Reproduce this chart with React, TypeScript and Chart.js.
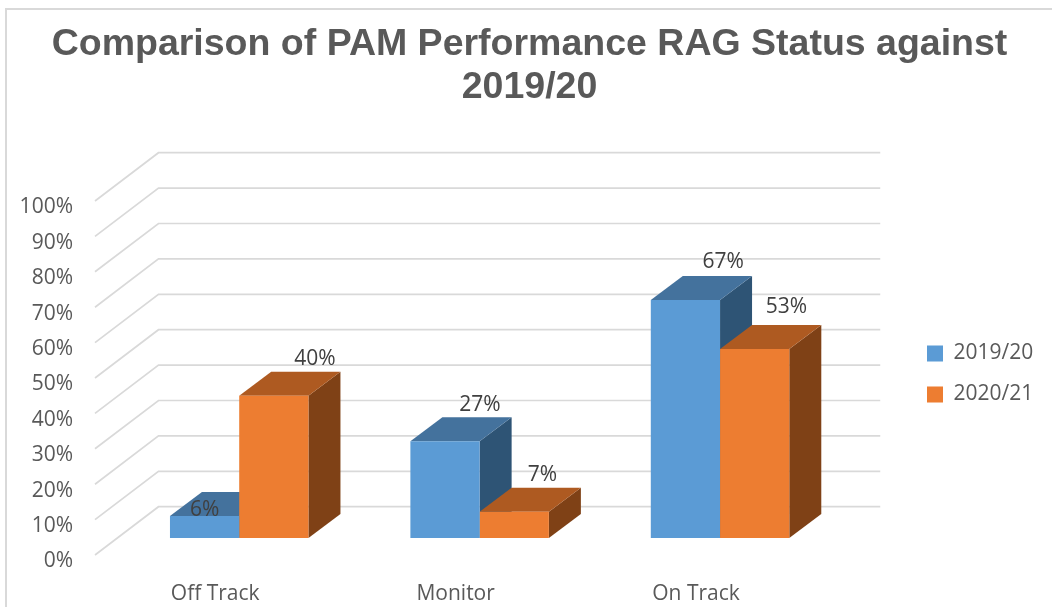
import React, { useEffect, useRef } from "react";
import { Chart, registerables } from "chart.js";

Chart.register(...registerables);

const titleLines = ["Comparison of PAM Performance RAG Status against", "2019/20"];
const categories = ["Off Track", "Monitor", "On Track"];
const series2019 = [6.2, 27.3, 67.2];
const series2020 = [40.2, 7.4, 53.4];
const seriesNames = ["2019/20", "2020/21"];
const tickStep = 10;

const BLUE = ["#5B9BD5", "#44729D", "#2E5475"];
const ORANGE = ["#ED7D31", "#AE5A21", "#7F4116"];
const faceColors = [BLUE, ORANGE];
const GRID = "#D9D9D9";
const TEXT = "#595959";
const LABEL = "#404040";
const FONT = "'Open Sans', sans-serif";

// data-label nudges relative to each bar's top centre [dx, dy], per series/category
const labelNudges = [
  [[0, -6], [35, -36], [37.7, -38]],
  [[41, -37], [28.3, -37], [31.7, -42]],
];

const depthPlugin = {
  id: "depth",
  afterLayout(chart: any) {
    const lg = chart.legend;
    const w = lg.right - lg.left;
    lg.left = 907;
    lg.right = 907 + w;
    const h = lg.bottom - lg.top;
    lg.top = 374 - h / 2;
    lg.bottom = 374 + h / 2;
    const t = chart.titleBlock;
    t.left = 7;
    t.right = 1052;
  },
  beforeDraw(chart: any) {
    const c = chart.ctx;
    c.save();
    c.strokeStyle = GRID;
    c.lineWidth = 2;
    c.beginPath();
    c.moveTo(6, 607);
    c.lineTo(6, 9);
    c.lineTo(1052, 9);
    c.stroke();
    c.restore();
  },
  beforeDatasetsDraw(chart: any) {
    const c = chart.ctx;
    const y = chart.scales.y;
    const a = chart.chartArea;
    c.save();
    c.strokeStyle = GRID;
    c.lineWidth = 1.7;
    y.ticks.forEach((t: any) => {
      const p = y.getPixelForValue(t.value);
      c.beginPath();
      c.moveTo(a.left - 24, p + 17);
      c.lineTo(a.left + 39.5, p - 31.3);
      c.lineTo(a.right + 40, p - 31.3);
      c.stroke();
    });
    const dx = 32;
    const dy = 24;
    chart.data.datasets.forEach((_: any, ds: number) => {
      chart.getDatasetMeta(ds).data.forEach((el: any) => {
        const { x, y: top, base, width } = el.getProps(["x", "y", "base", "width"]);
        const l = x - width / 2;
        const r = x + width / 2;
        c.fillStyle = faceColors[ds][2];
        c.beginPath();
        c.moveTo(r, top);
        c.lineTo(r + dx, top - dy);
        c.lineTo(r + dx, base - dy);
        c.lineTo(r, base);
        c.closePath();
        c.fill();
        c.fillStyle = faceColors[ds][1];
        c.beginPath();
        c.moveTo(l, top);
        c.lineTo(l + dx, top - dy);
        c.lineTo(r + dx, top - dy);
        c.lineTo(r, top);
        c.closePath();
        c.fill();
      });
    });
    c.restore();
  },
  afterDatasetsDraw(chart: any) {
    const c = chart.ctx;
    c.save();
    c.font = `21px ${FONT}`;
    c.fillStyle = LABEL;
    c.textAlign = "center";
    c.textBaseline = "middle";
    chart.data.datasets.forEach((d: any, ds: number) => {
      chart.getDatasetMeta(ds).data.forEach((el: any, i: number) => {
        const { x, y } = el.getProps(["x", "y"]);
        const [nx, ny] = labelNudges[ds][i];
        c.fillText(`${Math.round(d.data[i])}%`, x + nx, y + ny);
      });
    });
    c.restore();
  },
};

export default function App() {
  const ref = useRef<HTMLCanvasElement>(null);
  useEffect(() => {
    const chart = new Chart(ref.current as HTMLCanvasElement, {
      type: "bar",
      data: {
        labels: categories,
        datasets: [
          { label: seriesNames[0], data: series2019, backgroundColor: BLUE[0], borderWidth: 0 },
          { label: seriesNames[1], data: series2020, backgroundColor: ORANGE[0], borderWidth: 0 },
        ],
      },
      plugins: [depthPlugin],
      options: {
        responsive: false,
        animation: false,
        layout: { padding: { left: 7, right: 75.5, top: 0, bottom: 0 } },
        datasets: { bar: { categoryPercentage: 0.576, barPercentage: 1 } },
        plugins: {
          title: {
            display: true,
            text: titleLines,
            color: TEXT,
            font: { family: "'Liberation Sans', Arial, sans-serif", size: 37.5, weight: "bold", lineHeight: 1.144 },
            padding: { top: 23.5, bottom: 74.7 },
          },
          legend: {
            display: true,
            position: "right",
            labels: {
              boxWidth: 16,
              boxHeight: 16,
              padding: 20,
              color: TEXT,
              font: { family: FONT, size: 21 },
            },
          },
          tooltip: { enabled: false },
        },
        scales: {
          x: {
            grid: { display: false, drawTicks: false },
            border: { display: false },
            afterFit: (s: any) => { s.height = 69; },
            ticks: {
              color: TEXT,
              font: { family: FONT, size: 21 },
              labelOffset: -24,
              padding: 43,
              maxRotation: 0,
              autoSkip: false,
            },
          },
          y: {
            min: 0,
            max: 100,
            grid: { display: false, drawTicks: false },
            border: { display: false },
            afterFit: (s: any) => { s.width = 112; },
            ticks: {
              stepSize: tickStep,
              color: TEXT,
              font: { family: FONT, size: 21 },
              labelOffset: 23.5,
              padding: 46,
              callback: (v: any) => `${v}%`,
            },
          },
        },
      },
    } as any);
    return () => chart.destroy();
  }, []);
  return (
    <div style={{ position: "fixed", left: 0, top: 0, width: 1052, height: 607, background: "#fff" }}>
      <canvas ref={ref} width={1052} height={607} style={{ display: "block" }} />
    </div>
  );
}
